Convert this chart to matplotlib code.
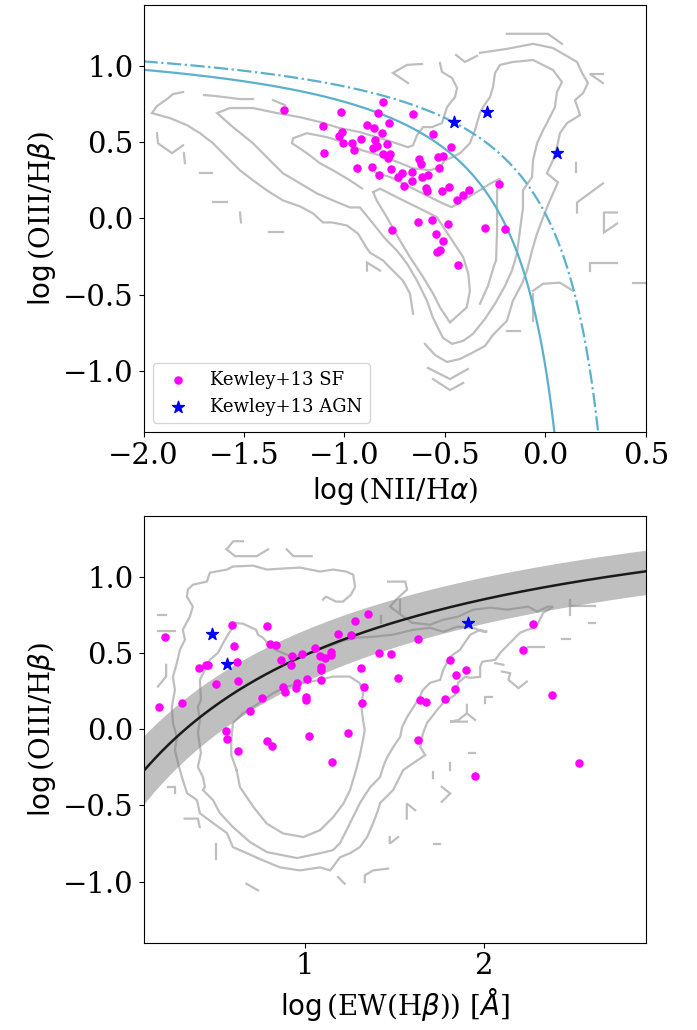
import numpy as np
import matplotlib
matplotlib.use('Agg')
import matplotlib.pyplot as plt

plt.rcParams['font.family'] = 'serif'

# ---------------- top panel (BPT) ----------------
sf_nii = [-1.300, -1.019, -1.105, -1.014, -1.026, -1.009, -1.100,
          -0.807, -0.835, -0.658, -0.777, -0.887, -0.852, -0.813,
          -0.558, -0.918, -0.961, -0.848, -0.837, -0.787, -0.857,
          -0.951, -0.470, -0.807, -0.774, -0.782, -0.629, -0.533,
          -0.508, -0.621, -0.939, -0.865, -0.530, -0.828, -0.769,
          -0.715, -0.732, -0.663, -0.613, -0.586, -0.663, -0.703,
          -0.596, -0.588, -0.513, -0.479, -0.381, -0.412, -0.442,
          -0.230, -0.633, -0.563, -0.487, -0.765, -0.301, -0.201,
          -0.546, -0.511, -0.525, -0.541, -0.434]
sf_oiii = [0.711, 0.695, 0.607, 0.564, 0.539, 0.496, 0.428,
           0.761, 0.689, 0.684, 0.629, 0.616, 0.594, 0.561,
           0.551, 0.524, 0.496, 0.513, 0.474, 0.491, 0.463,
           0.447, 0.469, 0.425, 0.421, 0.397, 0.388, 0.403,
           0.408, 0.360, 0.331, 0.338, 0.333, 0.283, 0.322,
           0.300, 0.272, 0.305, 0.272, 0.283, 0.243, 0.213,
           0.202, 0.178, 0.178, 0.206, 0.189, 0.151, 0.118,
           0.228, -0.024, -0.013, -0.039, -0.074, -0.061, -0.068,
           -0.105, -0.145, -0.206, -0.222, -0.303]
agn_nii = [-0.454, -0.289, 0.059]
agn_oiii = [0.630, 0.695, 0.432]

# demarcation curves  y = A/(x - B) + C
solid_A, solid_B, solid_C = 0.61, 0.275, 1.243
dashdot_A, dashdot_B, dashdot_C = 0.61, 0.49, 1.275

# SDSS density contours (traced pieces)
bpt_contours = [
    [(-1.803, 0.829), (-1.853, 0.816), (-1.883, 0.783), (-1.933, 0.737), (-1.958, 0.691),
     (-1.868, 0.658), (-1.784, 0.612), (-1.719, 0.559), (-1.654, 0.493), (-1.585, 0.401),
     (-1.520, 0.316), (-1.455, 0.250), (-1.386, 0.184), (-1.306, 0.118), (-1.221, 0.079),
     (-1.157, 0.033), (-1.107, -0.026), (-1.062, -0.026), (-0.988, -0.046), (-0.933, -0.099),
     (-0.888, -0.197), (-0.873, -0.224), (-0.808, -0.276), (-0.759, -0.342), (-0.709, -0.408),
     (-0.674, -0.493), (-0.659, -0.625)],
    [(-0.600, -0.822), (-0.550, -0.895), (-0.490, -0.941), (-0.425, -0.921), (-0.366, -0.882),
     (-0.301, -0.836), (-0.261, -0.763), (-0.192, -0.671), (-0.162, -0.539), (-0.117, -0.428),
     (-0.092, -0.342), (-0.067, -0.211), (-0.042, -0.099), (-0.012, 0.007), (0.022, 0.118),
     (0.062, 0.237), (0.007, 0.296), (0.037, 0.382), (0.057, 0.467), (0.072, 0.559),
     (0.107, 0.625), (0.172, 0.678), (0.147, 0.776), (0.187, 0.822), (0.211, 0.888),
     (0.182, 0.954), (0.157, 1.026), (0.037, 1.118), (-0.062, 1.145), (-0.192, 1.112),
     (-0.326, 1.086)],
    [(-0.525, 1.020), (-0.515, 0.961), (-0.465, 0.921), (-0.440, 0.855), (-0.450, 0.796),
     (-0.490, 0.730), (-0.515, 0.625), (-0.565, 0.599), (-0.609, 0.599), (-0.639, 0.546),
     (-0.659, 0.480), (-0.684, 0.467), (-0.789, 0.513), (-0.923, 0.566), (-1.022, 0.592),
     (-1.122, 0.632), (-1.221, 0.664), (-1.336, 0.691), (-1.455, 0.724), (-1.570, 0.724),
     (-1.634, 0.691), (-1.555, 0.599), (-1.455, 0.493), (-1.386, 0.401), (-1.306, 0.296),
     (-1.221, 0.230), (-1.137, 0.164), (-1.057, 0.118), (-0.973, 0.072), (-0.923, 0.072),
     (-0.858, -0.033), (-0.798, -0.132), (-0.739, -0.211), (-0.689, -0.296), (-0.639, -0.408),
     (-0.590, -0.539), (-0.560, -0.651), (-0.510, -0.783), (-0.465, -0.822), (-0.410, -0.803),
     (-0.361, -0.757), (-0.301, -0.658), (-0.251, -0.559), (-0.201, -0.441), (-0.167, -0.342),
     (-0.142, -0.230), (-0.127, -0.079), (-0.112, 0.072), (-0.112, 0.184), (-0.067, 0.270),
     (-0.062, 0.382), (-0.042, 0.493), (-0.012, 0.579), (0.022, 0.664), (0.047, 0.730),
     (0.057, 0.829), (0.082, 0.895), (0.037, 0.974), (-0.062, 1.039), (-0.162, 1.026),
     (-0.226, 1.007), (-0.251, 0.954), (-0.261, 0.862), (-0.276, 0.796), (-0.311, 0.730),
     (-0.326, 0.691), (-0.351, 0.579), (-0.376, 0.493), (-0.425, 0.428), (-0.465, 0.401),
     (-0.500, 0.382), (-0.525, 0.336), (-0.575, 0.316), (-0.659, 0.329), (-0.759, 0.382),
     (-0.823, 0.414), (-0.913, 0.447), (-0.988, 0.493), (-1.087, 0.533), (-1.187, 0.559),
     (-1.256, 0.526), (-1.261, 0.493), (-1.187, 0.428), (-1.122, 0.362), (-1.057, 0.316),
     (-0.973, 0.250), (-0.913, 0.197)],
    [(-0.857, 0.173), (-0.823, 0.195), (-0.707, 0.118), (-0.624, 0.064), (-0.541, 0.009),
     (-0.475, -0.123), (-0.409, -0.254), (-0.384, -0.364), (-0.376, -0.474), (-0.392, -0.583),
     (-0.475, -0.682), (-0.525, -0.583), (-0.558, -0.496), (-0.608, -0.386), (-0.674, -0.254),
     (-0.724, -0.145), (-0.790, 0.009), (-0.840, 0.118), (-0.857, 0.173)],
    [(-0.848, 0.303), (-0.774, 0.272), (-0.707, 0.228), (-0.641, 0.184), (-0.575, 0.140),
     (-0.508, 0.097), (-0.467, 0.074), (-0.409, 0.118), (-0.342, 0.173), (-0.276, 0.228),
     (-0.226, 0.261), (-0.241, 0.184), (-0.241, 0.053), (-0.241, -0.079), (-0.246, -0.276),
     (-0.256, -0.309), (-0.286, -0.441), (-0.326, -0.559)],
    [(-1.699, 0.809), (-1.644, 0.803), (-1.520, 0.783), (-1.455, 0.783)],
    [(-1.356, 0.776), (-1.296, 0.743)],
    [(-0.560, -1.053), (-0.475, -1.125), (-0.410, -1.079)],
    [(-0.585, -0.980), (-0.475, -1.053), (-0.386, -0.987)],
    [(-0.341, 1.066), (-0.401, 1.026), (-0.445, 1.072)],
    [(-0.614, 1.013), (-0.689, 1.007), (-0.759, 0.954), (-0.684, 0.888)],
    [(-0.192, 1.211), (0.012, 1.211), (0.082, 1.145)],
    [(0.286, 0.947), (0.221, 0.947), (0.286, 0.888)],
    [(0.152, 0.362), (0.152, 0.303)],
    [(0.286, 0.230), (0.157, 0.105), (0.157, 0.039)],
    [(0.356, 0.039), (0.291, 0.039), (0.291, -0.092), (0.356, -0.033)],
    [(0.356, -0.289), (0.221, -0.289), (0.221, -0.342)],
    [(0.435, -0.421), (0.500, -0.421)],
    [(-0.062, -0.493), (-0.062, -0.671)],
    [(-0.062, -0.474), (-0.012, -0.428), (0.072, -0.421), (0.137, -0.474)],
    [(-0.192, -0.737), (-0.127, -0.737)],
    [(-1.933, 0.559), (-1.928, 0.493), (-1.858, 0.428), (-1.803, 0.480)],
    [(-1.799, 0.428), (-1.794, 0.362)],
    [(-1.719, 0.296), (-1.659, 0.296)],
    [(-1.654, 0.105), (-1.585, 0.105)],
    [(-1.520, 0.039), (-1.515, -0.026)],
    [(-1.376, -0.092), (-1.306, -0.092)],
    [(-0.888, -0.342), (-0.888, -0.289), (-0.823, -0.342)],
]

# ---------------- bottom panel (EW) ----------------
sf_ew = [0.218, 0.184, 0.316, 0.409, 0.450, 0.459, 0.595, 0.790,
         0.602, 0.803, 0.840, 0.622, 0.505, 0.628, 0.864, 0.927,
         0.920, 0.982, 1.057, 1.085, 1.110, 1.143, 1.147, 1.091,
         1.091, 1.089, 1.013, 0.877, 0.887, 0.948, 0.957, 1.007,
         1.007, 0.762, 0.692, 0.558, 0.567, 0.625, 0.790, 0.816,
         1.024, 1.151, 1.242, 1.182, 1.255, 1.277, 1.351, 1.311,
         1.329, 1.318, 1.415, 1.480, 1.520, 1.628, 1.807, 1.842,
         1.896, 1.835, 1.781, 1.641, 1.675, 1.632, 1.948, 2.273,
         2.214, 2.376, 2.524]
sf_ew_oiii = [0.603, 0.145, 0.171, 0.403, 0.423, 0.423, 0.686, 0.680,
              0.548, 0.561, 0.555, 0.441, 0.296, 0.320, 0.456, 0.478,
              0.423, 0.491, 0.533, 0.478, 0.467, 0.507, 0.489, 0.412,
              0.390, 0.324, 0.333, 0.280, 0.243, 0.270, 0.303, 0.210,
              0.193, 0.206, 0.120, -0.013, -0.066, -0.145, -0.077, -0.110,
              -0.046, -0.213, -0.026, 0.627, 0.616, 0.708, 0.757, 0.403,
              0.276, 0.173, 0.502, 0.491, 0.336, 0.592, 0.456, 0.355,
              0.390, 0.265, 0.197, 0.193, 0.182, -0.070, -0.307, 0.691,
              0.522, 0.226, -0.224]
agn_ew = [0.483, 0.565, 1.907]
agn_ew_oiii = [0.625, 0.430, 0.697]

# relation y = A/(x - B) + C and its band edges
rel_A, rel_B, rel_C = -2.905, -1.357, 1.719
upper_B, upper_C = -1.437, 1.845
lower_B, lower_C = -1.3045, 1.575

ew_contours = [
    [(1.100, 0.851), (1.117, 0.870), (1.173, 0.838), (1.212, 0.838), (1.257, 0.884),
     (1.279, 0.936), (1.268, 1.015), (1.229, 1.035), (1.156, 1.048), (1.084, 1.035),
     (0.972, 1.061), (0.877, 1.055), (0.788, 1.048), (0.710, 1.074), (0.598, 1.068),
     (0.565, 1.048), (0.470, 1.028), (0.453, 0.969), (0.375, 0.949), (0.347, 0.917),
     (0.342, 0.870), (0.375, 0.805), (0.358, 0.739), (0.319, 0.653), (0.331, 0.588),
     (0.303, 0.522), (0.286, 0.436), (0.264, 0.344), (0.275, 0.259), (0.258, 0.147),
     (0.264, 0.041), (0.286, -0.051), (0.275, -0.137), (0.292, -0.222), (0.314, -0.314),
     (0.342, -0.418), (0.398, -0.465), (0.414, -0.551), (0.487, -0.615), (0.565, -0.681),
     (0.598, -0.773), (0.676, -0.813), (0.765, -0.860), (0.861, -0.906), (0.972, -0.926),
     (1.084, -0.906), (1.140, -0.926), (1.195, -0.840), (1.251, -0.813), (1.306, -0.773),
     (1.346, -0.707), (1.380, -0.615), (1.407, -0.530), (1.418, -0.484), (1.491, -0.399),
     (1.519, -0.333), (1.547, -0.268), (1.603, -0.222), (1.670, -0.169), (1.642, -0.116),
     (1.658, -0.024), (1.680, 0.041), (1.736, 0.127), (1.770, 0.173), (1.837, 0.226),
     (1.853, 0.305), (1.892, 0.344), (1.920, 0.338), (1.976, 0.344), (1.976, 0.410),
     (1.987, 0.443), (2.060, 0.456), (2.088, 0.502), (2.143, 0.568), (2.199, 0.634),
     (2.238, 0.653), (2.283, 0.666), (2.300, 0.699), (2.328, 0.765), (2.355, 0.785),
     (2.383, 0.805), (2.355, 0.805), (2.294, 0.772), (2.244, 0.805), (2.199, 0.798),
     (2.127, 0.785), (2.032, 0.798), (1.937, 0.785), (1.853, 0.739), (1.770, 0.719),
     (1.697, 0.686), (1.597, 0.699), (1.519, 0.765), (1.474, 0.805), (1.519, 0.864),
     (1.569, 0.917), (1.558, 0.969), (1.463, 0.969)],
    [(1.195, 0.576), (1.290, 0.601), (1.379, 0.607), (1.491, 0.621), (1.603, 0.653),
     (1.697, 0.666), (1.770, 0.640), (1.848, 0.673), (1.937, 0.666), (1.993, 0.640),
     (2.015, 0.640), (1.976, 0.653), (1.920, 0.620), (1.864, 0.522), (1.809, 0.476),
     (1.770, 0.390), (1.753, 0.324), (1.697, 0.305), (1.658, 0.259), (1.630, 0.193),
     (1.569, 0.081), (1.541, 0.015), (1.530, -0.051), (1.491, -0.117), (1.458, -0.183),
     (1.435, -0.248), (1.418, -0.314), (1.363, -0.380), (1.306, -0.484), (1.251, -0.615),
     (1.195, -0.747), (1.156, -0.793), (1.084, -0.813), (0.956, -0.845), (0.788, -0.806),
     (0.693, -0.740), (0.598, -0.641), (0.525, -0.549), (0.487, -0.464), (0.431, -0.399),
     (0.442, -0.378), (0.431, -0.313), (0.403, -0.247), (0.420, -0.155), (0.403, -0.024),
     (0.414, 0.061), (0.403, 0.147), (0.420, 0.193), (0.414, 0.324), (0.442, 0.390),
     (0.470, 0.456), (0.515, 0.502), (0.554, 0.588), (0.588, 0.653), (0.588, 0.699),
     (0.654, 0.693), (0.727, 0.653), (0.738, 0.620), (0.765, 0.601), (0.815, 0.535),
     (0.860, 0.509), (0.927, 0.476), (0.999, 0.489), (1.073, 0.522), (1.140, 0.548),
     (1.195, 0.574)],
    [(0.619, -0.268), (0.637, -0.378), (0.712, -0.509), (0.786, -0.618), (0.879, -0.684),
     (0.991, -0.707), (1.084, -0.662), (1.158, -0.575), (1.214, -0.487), (1.251, -0.399),
     (1.284, -0.268), (1.306, -0.169), (1.323, -0.070), (1.333, -0.005), (1.323, 0.061),
     (1.314, 0.149), (1.323, 0.237), (1.305, 0.303), (1.249, 0.346), (1.156, 0.346),
     (1.082, 0.324), (0.989, 0.303), (0.896, 0.280), (0.822, 0.237), (0.728, 0.160),
     (0.654, 0.105), (0.598, 0.039), (0.589, -0.070), (0.589, -0.169), (0.619, -0.268)],
    [(0.563, 1.181), (0.600, 1.234), (0.654, 1.234)],
    [(0.563, 1.181), (0.610, 1.136), (0.731, 1.136), (0.795, 1.181)],
    [(0.898, 1.181), (0.935, 1.136), (1.037, 1.136)],
    [(0.180, 0.752), (0.225, 0.752)],
    [(0.180, 0.647), (0.273, 0.647)],
    [(0.226, 0.423), (0.226, 0.346), (0.180, 0.280)],
    [(0.236, -0.378), (0.273, -0.378), (0.273, -0.421)],
    [(0.329, -0.586), (0.403, -0.586), (0.413, -0.641)],
    [(0.505, -0.750), (0.505, -0.849)],
    [(0.673, -1.013), (0.738, -1.057)],
    [(1.184, -0.970), (1.221, -1.013)],
    [(1.333, -1.003), (1.333, -0.958), (1.379, -0.926), (1.463, -0.914)],
    [(1.472, -0.707), (1.472, -0.750), (1.519, -0.707)],
    [(1.716, -0.755), (1.753, -0.755)],
    [(1.567, -0.586), (1.567, -0.487), (1.614, -0.531)],
    [(1.762, -0.378), (1.809, -0.421), (1.762, -0.476)],
    [(1.712, -0.279), (1.712, -0.322)],
    [(1.809, -0.224), (1.809, -0.268)],
    [(1.911, -0.158), (1.948, -0.158)],
    [(1.902, 0.160), (1.902, 0.105), (1.855, 0.061), (1.809, 0.050), (1.902, 0.050)],
    [(1.902, 0.105), (1.948, 0.061)],
    [(2.041, 0.214), (2.004, 0.214), (2.004, 0.171)],
    [(2.097, 0.379), (2.143, 0.368), (2.134, 0.324), (2.190, 0.270), (2.236, 0.313)],
    [(2.060, 0.434), (2.106, 0.423)],
    [(2.245, 0.537), (2.329, 0.537)],
    [(2.432, 0.592), (2.474, 0.592)],
    [(2.580, 0.697), (2.617, 0.697)],
    [(2.478, 0.851), (2.478, 0.752)],
    [(2.478, 0.807), (2.617, 0.807)],
    [(1.530, 0.851), (1.530, 0.763)],
    [(1.422, 0.741), (1.422, 0.697)],
]


def hyperbola(x, A, B, C):
    return A / (x - B) + C


def draw_contours(ax, pieces):
    for piece in pieces:
        p = np.array(piece)
        ax.plot(p[:, 0], p[:, 1], color='#bebebe', lw=1.6, zorder=1,
                solid_joinstyle='miter')


fig = plt.figure(figsize=(6.97, 10.30), dpi=100)
ax1 = fig.add_axes([0.2059, 0.5806, 0.7209, 0.4146])
ax2 = fig.add_axes([0.2059, 0.0848, 0.7209, 0.4143])

# top
draw_contours(ax1, bpt_contours)
xs = np.linspace(-2.0, solid_B - 0.005, 600)
ax1.plot(xs, hyperbola(xs, solid_A, solid_B, solid_C), color='#5ab0cd', lw=1.6, zorder=2)
xd = np.linspace(-2.0, dashdot_B - 0.005, 600)
ax1.plot(xd, hyperbola(xd, dashdot_A, dashdot_B, dashdot_C), color='#5ab0cd', lw=1.6,
         ls='-.', zorder=2)
ax1.scatter(sf_nii, sf_oiii, s=26, color='magenta', zorder=3, label='Kewley+13 SF')
ax1.scatter(agn_nii, agn_oiii, s=80, marker='*', color='blue', zorder=4,
            label='Kewley+13 AGN')
ax1.set_xlim(-2.0, 0.5)
ax1.set_ylim(-1.4, 1.4)
ax1.set_xlabel(r'$\log$(NII/H$\alpha$)', fontsize=20)
ax1.set_ylabel(r'$\log$(OIII/H$\beta$)', fontsize=20)
ax1.legend(loc='lower left', fontsize=13)

# bottom
draw_contours(ax2, ew_contours)
xe = np.linspace(0.1, 2.9, 400)
ax2.fill_between(xe, hyperbola(xe, rel_A, lower_B, lower_C),
                 hyperbola(xe, rel_A, upper_B, upper_C),
                 color='gray', alpha=0.5, lw=0, zorder=2)
ax2.plot(xe, hyperbola(xe, rel_A, rel_B, rel_C), color='#1a1a1a', lw=1.8, zorder=3)
ax2.scatter(sf_ew, sf_ew_oiii, s=26, color='magenta', zorder=4)
ax2.scatter(agn_ew, agn_ew_oiii, s=80, marker='*', color='blue', zorder=5)
ax2.set_xlim(0.1, 2.9)
ax2.set_ylim(-1.4, 1.4)
ax2.set_xticks([1, 2])
ax2.set_xlabel(r'$\log$(EW(H$\beta$)) [$\AA$]', fontsize=20)
ax2.set_ylabel(r'$\log$(OIII/H$\beta$)', fontsize=20)

for ax in (ax1, ax2):
    ax.tick_params(labelsize=21)

fig.savefig('out.png', dpi=100)
